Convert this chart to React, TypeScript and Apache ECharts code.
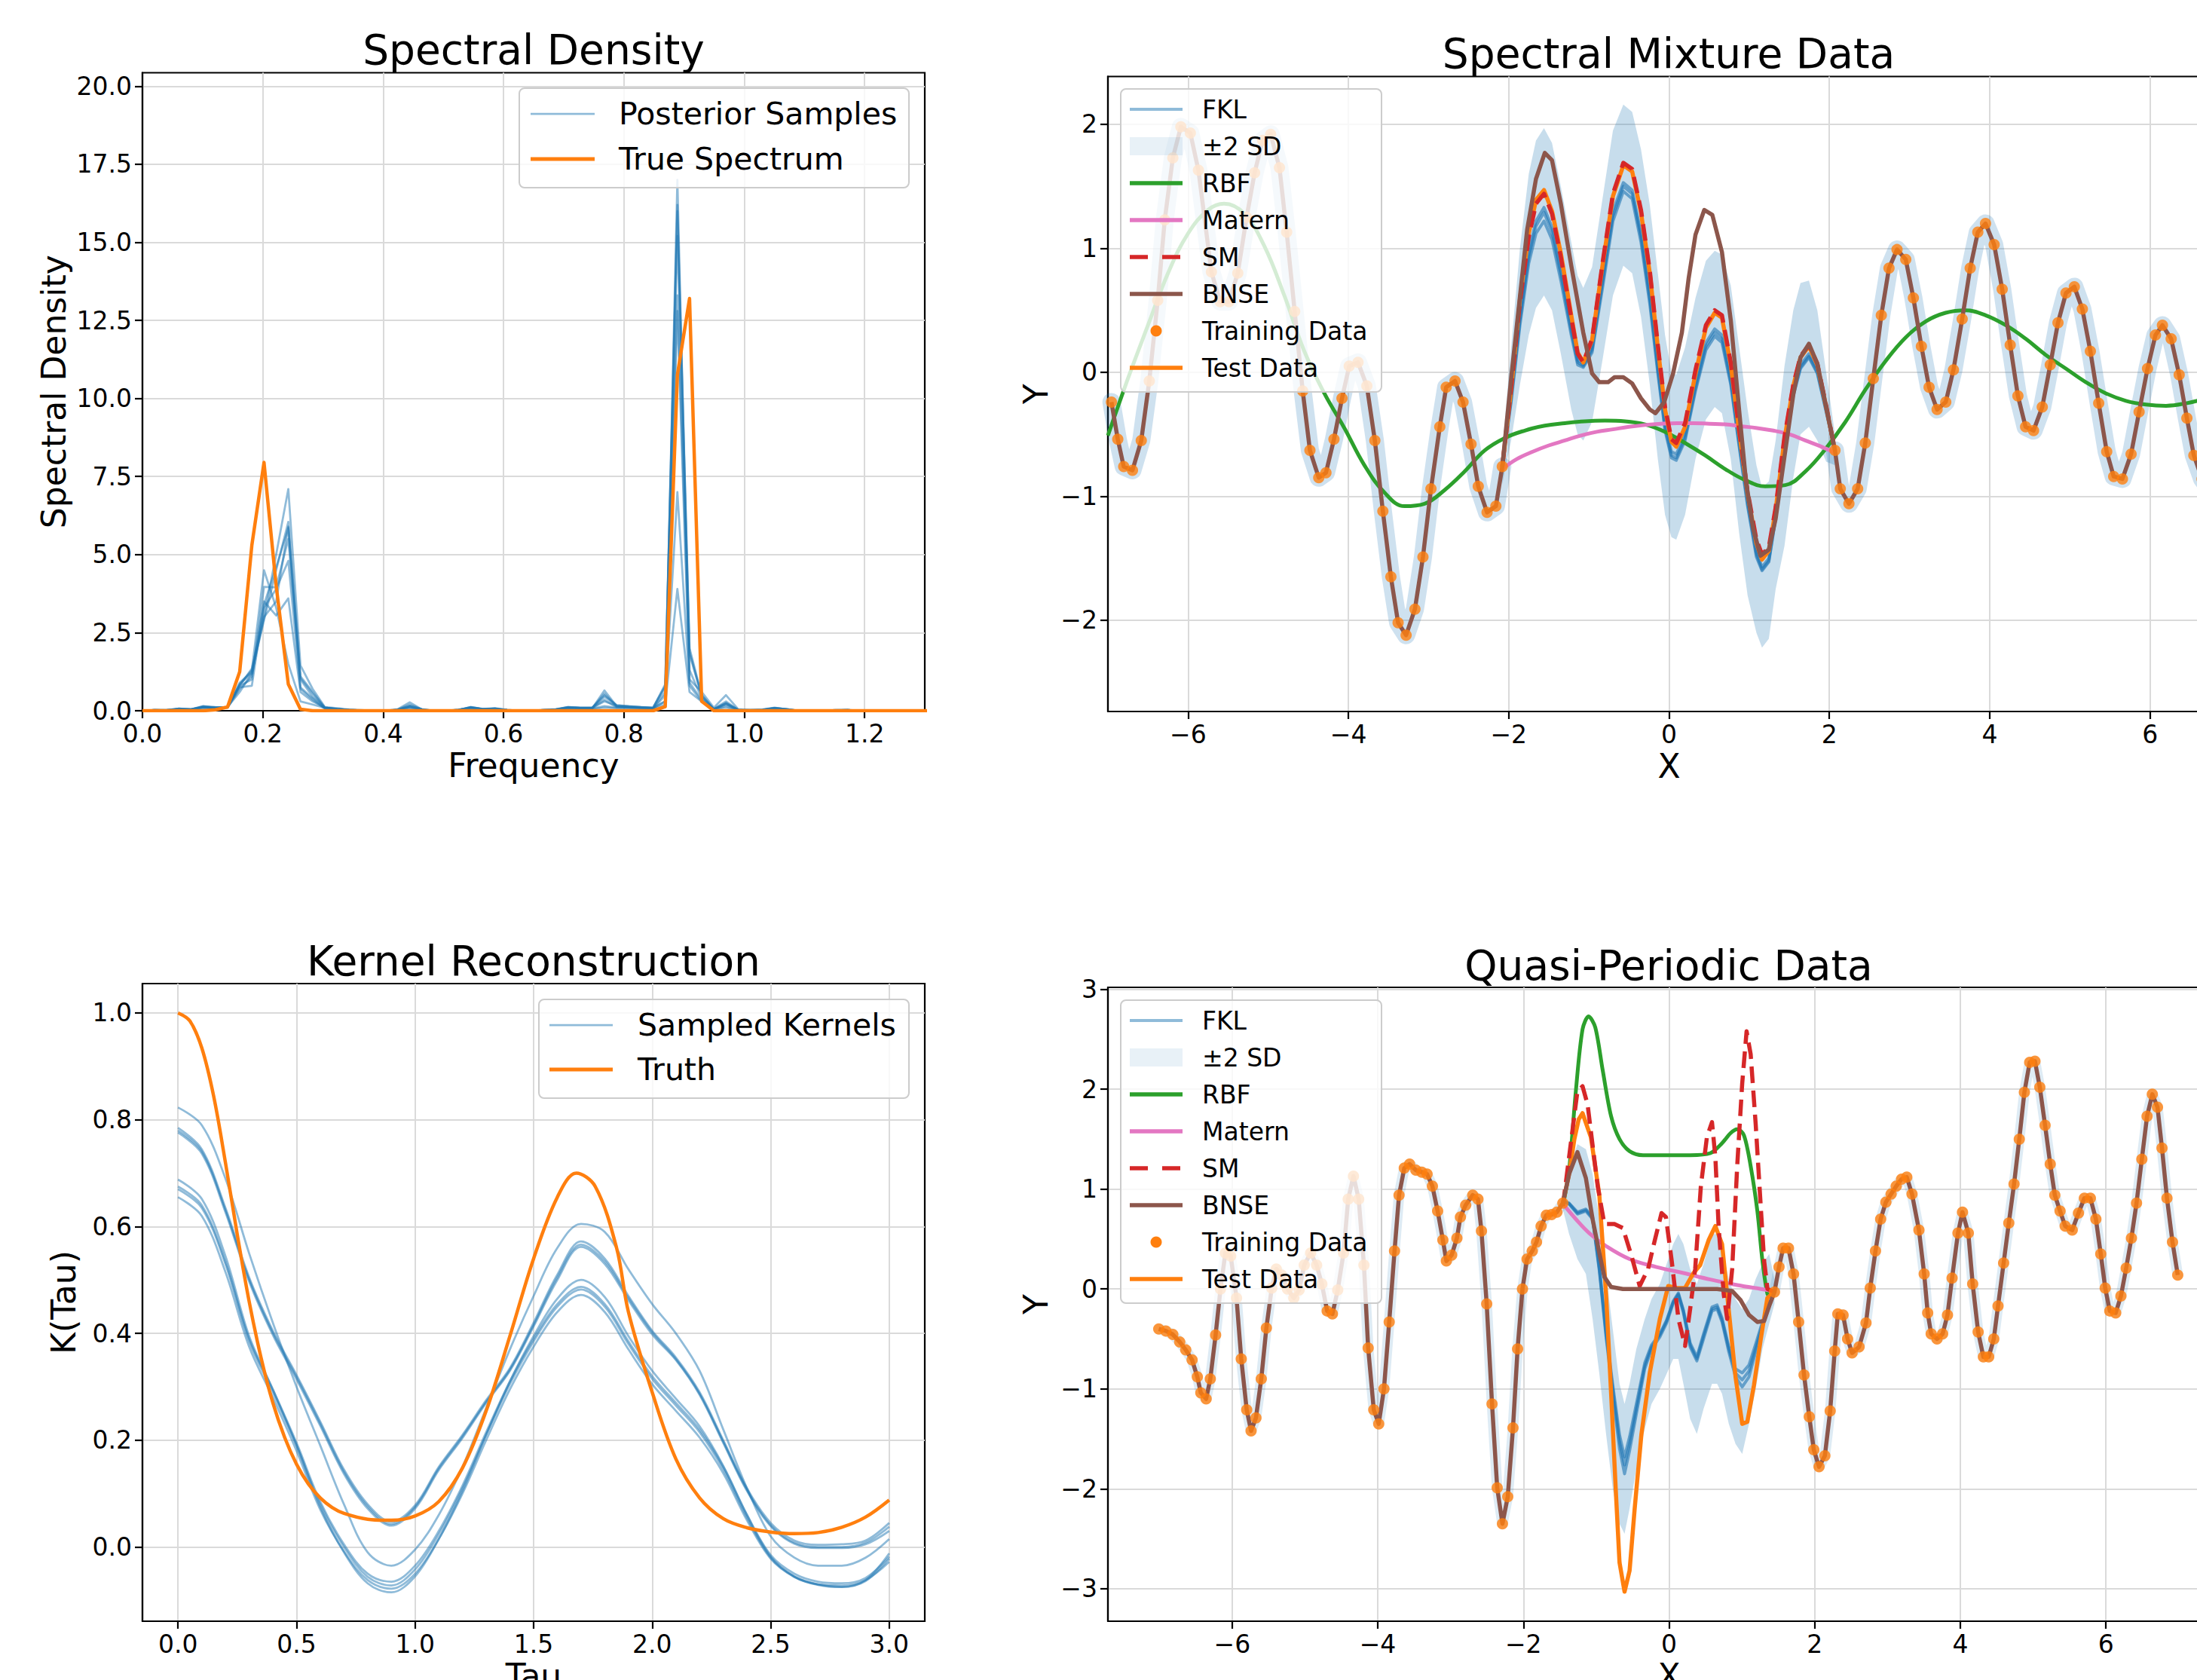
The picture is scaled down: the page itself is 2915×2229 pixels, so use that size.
import React, { useEffect, useRef } from 'react';
import * as echarts from 'echarts';

const FONT = '"DejaVu Sans", "Liberation Sans", sans-serif';
const BLUE = '#1f77b4';
const ORANGE = '#ff7f0e';
const GREEN = '#2ca02c';
const RED = '#d62728';
const PINK = '#e377c2';
const BROWN = '#8c564b';
const SAMPLE_BLUE = 'rgba(31,119,180,0.5)';
const BAND_FILL = 'rgba(31,119,180,0.25)';

// ---------------- Spectral Density ----------------
const freqs = [0, 0.0202, 0.0404, 0.0606, 0.0808, 0.101, 0.1212, 0.1414, 0.1616, 0.1818,
  0.202, 0.2222, 0.2424, 0.2626, 0.2828, 0.303, 0.3232, 0.3434, 0.3636, 0.3838,
  0.404, 0.4242, 0.4444, 0.4646, 0.4848, 0.5051, 0.5253, 0.5455, 0.5657, 0.5859,
  0.6061, 0.6263, 0.6465, 0.6667, 0.6869, 0.7071, 0.7273, 0.7475, 0.7677, 0.7879,
  0.8081, 0.8283, 0.8485, 0.8687, 0.8889, 0.9091, 0.9293, 0.9495, 0.9697, 0.9899,
  1.0101, 1.0303, 1.0505, 1.0707, 1.0909, 1.1111, 1.1313, 1.1515, 1.1717, 1.1919,
  1.2121, 1.2323, 1.2525, 1.2727, 1.2929, 1.3131];

const spec1 = [0, 0.02, 0.01, 0.06, 0.04, 0.12, 0.1, 0.12, 0.8, 1.35,
  3.0, 5.0, 7.1, 1.45, 0.7, 0.12, 0.08, 0.04, 0.02, 0,
  0, 0.05, 0.27, 0.04, 0, 0, 0.03, 0.1, 0.05, 0.07,
  0.02, 0, 0, 0.02, 0.04, 0.1, 0.08, 0.08, 0.65, 0.15,
  0.12, 0.1, 0.08, 0.3, 17.0, 1.0, 0.6, 0.1, 0.5, 0.05,
  0.02, 0.03, 0.08, 0.05, 0, 0, 0, 0.02, 0.03, 0,
  0, 0, 0, 0, 0, 0];
const spec2 = [0, 0.03, 0.02, 0.07, 0.05, 0.15, 0.12, 0.1, 0.9, 1.25,
  2.9, 4.5, 6.05, 1.1, 0.6, 0.1, 0.06, 0.03, 0.01, 0,
  0, 0.03, 0.15, 0.05, 0, 0, 0.02, 0.12, 0.06, 0.08,
  0.03, 0, 0, 0.03, 0.05, 0.12, 0.1, 0.1, 0.5, 0.18,
  0.15, 0.12, 0.1, 0.8, 16.2, 2.0, 0.5, 0.05, 0.25, 0.03,
  0.02, 0.04, 0.1, 0.04, 0, 0, 0, 0.01, 0.02, 0,
  0, 0, 0, 0, 0, 0];
const spec3 = [0, 0.01, 0.02, 0.05, 0.03, 0.1, 0.08, 0.11, 0.75, 0.8,
  3.4, 4.6, 5.85, 0.75, 0.4, 0.08, 0.05, 0.02, 0, 0,
  0, 0.02, 0.1, 0.02, 0, 0, 0.04, 0.08, 0.04, 0.06,
  0.01, 0, 0, 0.01, 0.03, 0.08, 0.07, 0.09, 0.35, 0.12,
  0.1, 0.08, 0.06, 0.5, 13.3, 1.3, 0.4, 0.05, 0.2, 0.02,
  0.01, 0.02, 0.06, 0.03, 0, 0, 0, 0.02, 0.02, 0,
  0, 0, 0, 0, 0, 0];
const spec4 = [0, 0.02, 0.01, 0.05, 0.04, 0.11, 0.09, 0.1, 0.7, 1.1,
  3.3, 3.9, 4.8, 0.7, 0.35, 0.06, 0.04, 0.02, 0, 0,
  0, 0.03, 0.12, 0.03, 0, 0, 0.03, 0.09, 0.05, 0.05,
  0.02, 0, 0, 0.02, 0.03, 0.09, 0.08, 0.07, 0.15, 0.1,
  0.1, 0.09, 0.07, 0.6, 12.8, 0.9, 0.35, 0.04, 0.15, 0.02,
  0.01, 0.03, 0.07, 0.04, 0, 0, 0, 0.01, 0.02, 0,
  0, 0, 0, 0, 0, 0];
const spec5 = [0, 0.01, 0.02, 0.04, 0.03, 0.09, 0.08, 0.12, 0.6, 1.2,
  3.5, 3.05, 3.6, 0.6, 0.3, 0.1, 0.06, 0.03, 0.01, 0,
  0, 0.02, 0.08, 0.02, 0, 0, 0.02, 0.07, 0.04, 0.05,
  0.02, 0, 0, 0.01, 0.02, 0.07, 0.06, 0.06, 0.1, 0.08,
  0.08, 0.07, 0.05, 0.2, 3.9, 0.6, 0.3, 0.05, 0.1, 0.02,
  0.01, 0.02, 0.05, 0.03, 0, 0, 0, 0.01, 0.01, 0,
  0, 0, 0, 0, 0, 0];
const spec6 = [0, 0.02, 0.02, 0.06, 0.04, 0.13, 0.1, 0.11, 0.85, 1.3,
  4.5, 3.3, 1.5, 0.3, 0.2, 0.09, 0.05, 0.03, 0.01, 0,
  0, 0.04, 0.2, 0.04, 0, 0, 0.03, 0.1, 0.05, 0.06,
  0.02, 0, 0, 0.02, 0.04, 0.1, 0.09, 0.09, 0.55, 0.14,
  0.12, 0.1, 0.08, 0.3, 7.0, 0.8, 0.3, 0.06, 0.3, 0.03,
  0.02, 0.03, 0.08, 0.04, 0, 0, 0, 0.02, 0.02, 0,
  0, 0, 0, 0, 0, 0];
const spec7 = [0, 0.02, 0.01, 0.06, 0.05, 0.12, 0.11, 0.12, 0.8, 1.0,
  3.97, 3.95, 5.5, 1.0, 0.45, 0.1, 0.05, 0.03, 0.01, 0,
  0, 0.03, 0.14, 0.03, 0, 0, 0.02, 0.11, 0.05, 0.07,
  0.02, 0, 0, 0.02, 0.04, 0.11, 0.09, 0.09, 0.3, 0.15,
  0.13, 0.11, 0.09, 0.85, 15.2, 1.8, 0.5, 0.05, 0.22, 0.03,
  0.02, 0.03, 0.09, 0.05, 0, 0, 0, 0.01, 0.02, 0,
  0, 0, 0, 0, 0, 0];
const spec8 = [0, 0.02, 0.02, 0.07, 0.04, 0.14, 0.1, 0.1, 0.85, 1.2,
  3.0, 3.5, 5.9, 1.05, 0.55, 0.1, 0.06, 0.03, 0.01, 0,
  0, 0.03, 0.16, 0.04, 0, 0, 0.03, 0.12, 0.06, 0.07,
  0.03, 0, 0, 0.02, 0.04, 0.12, 0.1, 0.1, 0.45, 0.17,
  0.14, 0.12, 0.1, 0.75, 16.0, 1.9, 0.45, 0.05, 0.24, 0.03,
  0.02, 0.04, 0.09, 0.05, 0, 0, 0, 0.01, 0.02, 0,
  0, 0, 0, 0, 0, 0];
const trueSpectrum = [0, 0, 0, 0, 0, 0, 0.03, 0.12, 1.25, 5.3,
  7.95, 4.0, 0.85, 0.05, 0, 0, 0, 0, 0, 0,
  0, 0, 0, 0, 0, 0, 0, 0, 0, 0,
  0, 0, 0, 0, 0, 0, 0, 0, 0, 0,
  0, 0, 0, 0.13, 10.75, 13.2, 0.3, 0, 0, 0,
  0, 0, 0, 0, 0, 0, 0, 0, 0, 0,
  0, 0, 0, 0, 0, 0];
const specSamples = [spec1, spec2, spec3, spec4, spec5, spec6, spec7, spec8];

// ---------------- Spectral Mixture Data ----------------
const smTrainLeft = [[-6.956, -0.24], [-6.877, -0.54], [-6.803, -0.76], [-6.694, -0.79], [-6.584, -0.55], [-6.484, -0.07], [-6.379, 0.58], [-6.291, 1.23], [-6.19, 1.73], [-6.09, 1.98], [-5.972, 1.93], [-5.871, 1.63], [-5.709, 0.81], [-5.6, 0.57], [-5.49, 0.57], [-5.38, 0.8], [-5.27, 1.25], [-5.17, 1.61], [-5.07, 1.87], [-4.97, 1.92], [-4.86, 1.65], [-4.77, 1.13], [-4.67, 0.49], [-4.57, -0.15], [-4.48, -0.63], [-4.37, -0.85], [-4.28, -0.81], [-4.18, -0.54], [-4.08, -0.21], [-3.99, 0.05], [-3.88, 0.08], [-3.77, -0.11], [-3.67, -0.55], [-3.57, -1.12], [-3.47, -1.65], [-3.38, -2.02], [-3.28, -2.12], [-3.17, -1.91], [-3.07, -1.49], [-2.97, -0.94], [-2.86, -0.44], [-2.78, -0.12], [-2.67, -0.07], [-2.57, -0.24], [-2.47, -0.58], [-2.38, -0.92], [-2.27, -1.13], [-2.16, -1.08], [-2.08, -0.76]];
const smTrainRight = [[2.07, -0.63], [2.136, -0.94], [2.244, -1.06], [2.353, -0.94], [2.448, -0.57], [2.548, -0.05], [2.648, 0.46], [2.744, 0.84], [2.844, 0.99], [2.953, 0.91], [3.048, 0.6], [3.148, 0.21], [3.244, -0.12], [3.344, -0.3], [3.452, -0.24], [3.548, 0.02], [3.657, 0.43], [3.757, 0.84], [3.852, 1.13], [3.948, 1.2], [4.056, 1.03], [4.156, 0.67], [4.256, 0.22], [4.352, -0.19], [4.448, -0.44], [4.547, -0.47], [4.656, -0.28], [4.756, 0.06], [4.852, 0.4], [4.952, 0.64], [5.056, 0.69], [5.156, 0.51], [5.256, 0.17], [5.36, -0.25], [5.46, -0.64], [5.547, -0.84], [5.656, -0.86], [5.764, -0.66], [5.864, -0.32], [5.969, 0.03], [6.068, 0.3], [6.155, 0.38], [6.264, 0.27], [6.364, -0.02], [6.46, -0.37], [6.547, -0.67], [6.65, -0.86], [6.75, -0.95]];
const smGapX = [-2.08, -1.97, -1.86, -1.75, -1.66, -1.56, -1.46, -1.35, -1.22, -1.14, -1.07, -0.96, -0.83, -0.7, -0.57, -0.46, -0.35, -0.24, -0.14, -0.05, 0.03, 0.09, 0.2, 0.33, 0.46, 0.57, 0.66, 0.77, 0.875, 0.98, 1.09, 1.16, 1.245, 1.33, 1.44, 1.55, 1.64, 1.745, 1.85, 1.96, 2.07];
const smTestY = [-0.76, -0.14, 0.59, 1.12, 1.39, 1.47, 1.3, 0.96, 0.46, 0.16, 0.08, 0.26, 0.86, 1.42, 1.67, 1.62, 1.29, 0.8, 0.2, -0.3, -0.56, -0.6, -0.44, -0.01, 0.36, 0.48, 0.44, 0.06, -0.48, -0.98, -1.38, -1.51, -1.44, -1.11, -0.54, -0.11, 0.12, 0.21, 0.06, -0.28, -0.63];
const smSmY = [-0.76, -0.12, 0.57, 1.09, 1.36, 1.44, 1.28, 0.93, 0.44, 0.15, 0.08, 0.27, 0.88, 1.44, 1.69, 1.64, 1.31, 0.82, 0.22, -0.28, -0.54, -0.57, -0.41, 0.02, 0.38, 0.5, 0.46, 0.08, -0.46, -0.96, -1.35, -1.47, -1.41, -1.09, -0.52, -0.1, 0.13, 0.22, 0.07, -0.27, -0.63];
const smFkl1 = [-0.76, -0.2, 0.45, 0.97, 1.22, 1.33, 1.17, 0.83, 0.36, 0.1, 0.06, 0.2, 0.75, 1.3, 1.53, 1.47, 1.12, 0.62, 0.05, -0.42, -0.64, -0.66, -0.5, -0.1, 0.24, 0.35, 0.3, -0.05, -0.56, -1.04, -1.45, -1.57, -1.5, -1.15, -0.6, -0.16, 0.06, 0.15, 0.02, -0.3, -0.63];
const smFkl2 = [-0.76, -0.22, 0.42, 0.93, 1.18, 1.29, 1.13, 0.79, 0.33, 0.08, 0.05, 0.18, 0.72, 1.26, 1.5, 1.44, 1.09, 0.59, 0.02, -0.45, -0.67, -0.69, -0.53, -0.13, 0.21, 0.32, 0.27, -0.08, -0.58, -1.06, -1.47, -1.59, -1.52, -1.17, -0.62, -0.18, 0.04, 0.13, 0.0, -0.31, -0.63];
const smFkl3 = [-0.76, -0.24, 0.38, 0.88, 1.12, 1.22, 1.07, 0.74, 0.3, 0.06, 0.04, 0.16, 0.68, 1.22, 1.46, 1.4, 1.05, 0.55, -0.01, -0.47, -0.69, -0.71, -0.55, -0.15, 0.18, 0.29, 0.24, -0.1, -0.6, -1.08, -1.49, -1.6, -1.53, -1.18, -0.63, -0.19, 0.03, 0.12, -0.01, -0.32, -0.63];
const smBandUpper = [-0.62, 0.2, 1.0, 1.6, 1.87, 1.97, 1.85, 1.5, 1.05, 0.78, 0.68, 0.85, 1.4, 1.95, 2.16, 2.1, 1.8, 1.35, 0.8, 0.3, 0.0, -0.02, 0.2, 0.6, 0.9, 0.98, 0.95, 0.7, 0.2, -0.3, -0.75, -0.93, -0.88, -0.55, 0.05, 0.5, 0.72, 0.74, 0.5, 0.0, -0.5];
const smBandLower = [-0.9, -0.55, -0.1, 0.3, 0.52, 0.62, 0.5, 0.15, -0.3, -0.5, -0.55, -0.4, 0.1, 0.62, 0.86, 0.8, 0.45, -0.1, -0.7, -1.15, -1.33, -1.35, -1.15, -0.7, -0.38, -0.28, -0.33, -0.7, -1.3, -1.8, -2.1, -2.22, -2.15, -1.75, -1.4, -0.85, -0.5, -0.44, -0.55, -0.72, -0.75];
const smBnseGap = [[-2.08, -0.76], [-1.97, -0.05], [-1.87, 0.55], [-1.77, 1.15], [-1.66, 1.56], [-1.55, 1.77], [-1.46, 1.71], [-1.35, 1.36], [-1.22, 0.86], [-1.07, 0.32], [-0.96, -0.01], [-0.87, -0.08], [-0.76, -0.08], [-0.68, -0.04], [-0.57, -0.04], [-0.46, -0.09], [-0.35, -0.21], [-0.24, -0.3], [-0.17, -0.33], [-0.06, -0.24], [0.05, -0.01], [0.16, 0.32], [0.245, 0.76], [0.33, 1.11], [0.44, 1.31], [0.54, 1.27], [0.66, 0.97], [0.77, 0.42], [0.875, -0.31], [0.96, -0.88], [1.05, -1.26], [1.14, -1.48], [1.245, -1.43], [1.33, -1.18], [1.44, -0.68], [1.55, -0.18], [1.64, 0.12], [1.745, 0.23], [1.85, 0.07], [1.96, -0.28], [2.07, -0.63]];
const smMatern = [[-2.08, -0.78], [-1.9, -0.7], [-1.7, -0.64], [-1.5, -0.59], [-1.3, -0.55], [-1.1, -0.51], [-0.9, -0.48], [-0.7, -0.46], [-0.5, -0.44], [-0.3, -0.425], [-0.1, -0.415], [0.1, -0.41], [0.3, -0.41], [0.5, -0.415], [0.7, -0.42], [0.9, -0.435], [1.1, -0.45], [1.3, -0.47], [1.5, -0.5], [1.7, -0.55], [1.9, -0.6], [2.07, -0.65]];
const smRbf = [[-7.0, -0.51], [-6.75, -0.05], [-6.5, 0.38], [-6.25, 0.8], [-6.0, 1.12], [-5.75, 1.31], [-5.55, 1.36], [-5.3, 1.28], [-5.05, 1.02], [-4.8, 0.62], [-4.55, 0.17], [-4.3, -0.17], [-4.05, -0.45], [-3.8, -0.75], [-3.55, -0.97], [-3.3, -1.08], [-3.05, -1.06], [-2.8, -0.95], [-2.55, -0.8], [-2.3, -0.63], [-2.05, -0.53], [-1.8, -0.47], [-1.55, -0.43], [-1.3, -0.41], [-1.05, -0.395], [-0.8, -0.39], [-0.55, -0.395], [-0.3, -0.42], [-0.05, -0.48], [0.2, -0.57], [0.45, -0.67], [0.7, -0.78], [0.95, -0.87], [1.2, -0.92], [1.45, -0.91], [1.7, -0.8], [1.95, -0.62], [2.2, -0.4], [2.45, -0.14], [2.7, 0.09], [2.95, 0.28], [3.2, 0.41], [3.45, 0.48], [3.7, 0.5], [3.95, 0.46], [4.2, 0.38], [4.45, 0.27], [4.7, 0.14], [4.95, 0.03], [5.2, -0.08], [5.45, -0.17], [5.7, -0.23], [5.95, -0.26], [6.2, -0.27], [6.45, -0.25], [6.7, -0.21], [6.95, -0.15]];

// ---------------- Kernel Reconstruction ----------------
const kTau = [0, 0.1, 0.2, 0.3, 0.4, 0.5, 0.6, 0.7, 0.8, 0.9, 1.0, 1.1, 1.2, 1.3, 1.4, 1.5, 1.6, 1.7, 1.8, 1.9, 2.0, 2.1, 2.2, 2.3, 2.4, 2.5, 2.6, 2.7, 2.8, 2.9, 3.0];
const kA1 = [0.785, 0.745, 0.635, 0.505, 0.405, 0.322, 0.235, 0.145, 0.08, 0.047, 0.078, 0.15, 0.21, 0.275, 0.335, 0.42, 0.51, 0.572, 0.54, 0.47, 0.405, 0.355, 0.29, 0.2, 0.11, 0.045, 0.012, 0.004, 0.005, 0.012, 0.045];
const kA2 = [0.78, 0.741, 0.631, 0.501, 0.401, 0.318, 0.231, 0.141, 0.076, 0.043, 0.075, 0.147, 0.207, 0.272, 0.332, 0.416, 0.505, 0.566, 0.535, 0.466, 0.402, 0.352, 0.287, 0.197, 0.107, 0.041, 0.008, 0.0, 0.0, 0.008, 0.038];
const kA3 = [0.776, 0.737, 0.627, 0.497, 0.397, 0.314, 0.227, 0.137, 0.072, 0.04, 0.072, 0.144, 0.204, 0.27, 0.33, 0.413, 0.5, 0.562, 0.53, 0.462, 0.398, 0.35, 0.285, 0.195, 0.105, 0.039, 0.006, -0.002, -0.002, 0.005, 0.03];
const kL1 = [0.823, 0.79, 0.69, 0.55, 0.42, 0.3, 0.19, 0.08, -0.01, -0.035, -0.005, 0.06, 0.15, 0.26, 0.37, 0.47, 0.56, 0.605, 0.59, 0.52, 0.455, 0.4, 0.33, 0.22, 0.11, 0.02, -0.02, -0.035, -0.035, -0.02, 0.015];
const kB1 = [0.675, 0.64, 0.535, 0.39, 0.295, 0.195, 0.085, 0.005, -0.05, -0.065, -0.035, 0.03, 0.115, 0.215, 0.31, 0.39, 0.455, 0.487, 0.455, 0.385, 0.32, 0.27, 0.22, 0.15, 0.06, -0.015, -0.05, -0.065, -0.068, -0.058, -0.018];
const kB2 = [0.67, 0.635, 0.53, 0.385, 0.29, 0.19, 0.08, 0.0, -0.056, -0.072, -0.042, 0.024, 0.11, 0.21, 0.305, 0.385, 0.45, 0.482, 0.45, 0.38, 0.315, 0.265, 0.215, 0.145, 0.055, -0.02, -0.056, -0.071, -0.075, -0.064, -0.022];
const kB3 = [0.688, 0.652, 0.545, 0.395, 0.295, 0.19, 0.075, -0.01, -0.068, -0.085, -0.055, 0.015, 0.105, 0.21, 0.31, 0.395, 0.465, 0.5, 0.468, 0.395, 0.33, 0.278, 0.226, 0.152, 0.06, -0.018, -0.055, -0.07, -0.075, -0.062, -0.012];
const kB4 = [0.655, 0.62, 0.515, 0.375, 0.28, 0.18, 0.07, -0.008, -0.062, -0.078, -0.05, 0.015, 0.1, 0.2, 0.295, 0.375, 0.44, 0.472, 0.44, 0.37, 0.305, 0.255, 0.205, 0.138, 0.05, -0.022, -0.056, -0.07, -0.072, -0.062, -0.028];
const kernelSamples = [kA1, kA2, kA3, kL1, kB1, kB2, kB3, kB4];
const kTruth = [[0, 1.0], [0.05, 0.985], [0.1, 0.935], [0.15, 0.845], [0.2, 0.72], [0.25, 0.585], [0.3, 0.46], [0.35, 0.355], [0.4, 0.27], [0.45, 0.205], [0.5, 0.155], [0.55, 0.118], [0.6, 0.092], [0.65, 0.074], [0.7, 0.063], [0.8, 0.052], [0.9, 0.05], [1.0, 0.058], [1.1, 0.085], [1.2, 0.148], [1.3, 0.255], [1.4, 0.395], [1.5, 0.54], [1.6, 0.655], [1.68, 0.7], [1.76, 0.675], [1.85, 0.56], [1.9, 0.44], [2.0, 0.29], [2.1, 0.165], [2.2, 0.092], [2.3, 0.053], [2.4, 0.036], [2.5, 0.028], [2.6, 0.025], [2.7, 0.027], [2.8, 0.037], [2.9, 0.056], [3.0, 0.088]];

// ---------------- Quasi-Periodic Data ----------------
const qpTrainLeft = [[-7.008, -0.4], [-6.91, -0.42], [-6.815, -0.455], [-6.72, -0.53], [-6.637, -0.61], [-6.55, -0.71], [-6.478, -0.88], [-6.43, -1.04], [-6.357, -1.1], [-6.3, -0.9], [-6.227, -0.46], [-6.16, 0.0], [-6.093, 0.36], [-6.02, 0.33], [-5.94, -0.09], [-5.875, -0.7], [-5.8, -1.21], [-5.74, -1.42], [-5.673, -1.29], [-5.6, -0.9], [-5.53, -0.39], [-5.456, 0.01], [-5.394, 0.2], [-5.32, 0.14], [-5.24, 0.0], [-5.153, -0.09], [-5.08, -0.01], [-5.01, 0.24], [-4.922, 0.36], [-4.84, 0.24], [-4.768, 0.05], [-4.695, -0.22], [-4.623, -0.25], [-4.55, -0.01], [-4.47, 0.36], [-4.406, 0.9], [-4.334, 1.13], [-4.262, 0.9], [-4.19, 0.24], [-4.132, -0.59], [-4.055, -1.21], [-3.987, -1.35], [-3.915, -1.0], [-3.843, -0.33], [-3.77, 0.38], [-3.708, 0.94], [-3.636, 1.21], [-3.563, 1.25], [-3.477, 1.19], [-3.395, 1.17], [-3.323, 1.15], [-3.25, 1.03], [-3.178, 0.78], [-3.106, 0.49], [-3.058, 0.28], [-2.985, 0.34], [-2.913, 0.51], [-2.865, 0.72], [-2.793, 0.84], [-2.696, 0.94], [-2.624, 0.9], [-2.576, 0.58], [-2.504, -0.15], [-2.431, -1.15], [-2.36, -1.99], [-2.288, -2.35], [-2.215, -2.08], [-2.143, -1.39], [-2.08, -0.6], [-2.013, 0.0], [-1.95, 0.3], [-1.878, 0.38], [-1.82, 0.47], [-1.757, 0.63], [-1.685, 0.74], [-1.613, 0.745], [-1.54, 0.77], [-1.458, 0.86]];
const qpTrainRight = [[1.448, -0.03], [1.51, 0.22], [1.567, 0.41], [1.64, 0.41], [1.71, 0.15], [1.78, -0.33], [1.854, -0.86], [1.926, -1.28], [1.988, -1.61], [2.06, -1.78], [2.14, -1.67], [2.213, -1.22], [2.275, -0.62], [2.318, -0.25], [2.39, -0.26], [2.452, -0.5], [2.514, -0.64], [2.61, -0.58], [2.705, -0.34], [2.763, 0.01], [2.835, 0.38], [2.906, 0.7], [2.978, 0.87], [3.05, 0.95], [3.12, 1.03], [3.193, 1.1], [3.265, 1.12], [3.337, 0.95], [3.432, 0.59], [3.504, 0.15], [3.552, -0.24], [3.6, -0.45], [3.68, -0.5], [3.757, -0.45], [3.824, -0.26], [3.887, 0.11], [3.968, 0.56], [4.03, 0.77], [4.11, 0.56], [4.17, 0.05], [4.245, -0.43], [4.317, -0.68], [4.39, -0.68], [4.46, -0.5], [4.518, -0.17], [4.595, 0.26], [4.666, 0.66], [4.738, 1.05], [4.81, 1.5], [4.88, 1.97], [4.953, 2.27], [5.025, 2.28], [5.092, 2.02], [5.164, 1.64], [5.235, 1.25], [5.298, 0.94], [5.37, 0.78], [5.44, 0.63], [5.537, 0.59], [5.623, 0.76], [5.704, 0.91], [5.786, 0.91], [5.862, 0.7], [5.929, 0.35], [5.99, 0.01], [6.053, -0.22], [6.134, -0.24], [6.206, -0.07], [6.278, 0.21], [6.35, 0.51], [6.42, 0.86], [6.493, 1.3], [6.565, 1.73], [6.637, 1.95], [6.708, 1.82], [6.77, 1.41], [6.838, 0.91], [6.914, 0.47], [6.986, 0.14]];
const qpGapX = [-1.458, -1.373, -1.258, -1.142, -1.05, -0.957, -0.865, -0.773, -0.68, -0.611, -0.542, -0.449, -0.334, -0.241, -0.126, -0.033, 0.058, 0.128, 0.197, 0.29, 0.382, 0.474, 0.59, 0.66, 0.728, 0.821, 0.913, 1.005, 1.098, 1.19, 1.283, 1.375, 1.448];
const qpFkl1 = [0.88, 0.86, 0.77, 0.8, 0.72, 0.22, -0.42, -0.96, -1.46, -1.68, -1.48, -1.15, -0.74, -0.56, -0.45, -0.31, -0.12, -0.04, -0.21, -0.54, -0.68, -0.45, -0.18, -0.16, -0.29, -0.58, -0.8, -0.84, -0.76, -0.55, -0.33, -0.15, -0.03];
const qpFkl2 = [0.88, 0.85, 0.75, 0.78, 0.7, 0.18, -0.48, -1.05, -1.6, -1.85, -1.62, -1.25, -0.8, -0.6, -0.48, -0.34, -0.14, -0.06, -0.24, -0.58, -0.72, -0.5, -0.22, -0.2, -0.33, -0.63, -0.88, -0.98, -0.88, -0.63, -0.38, -0.17, -0.03];
const qpFkl3 = [0.88, 0.855, 0.76, 0.79, 0.71, 0.2, -0.45, -1.0, -1.53, -1.76, -1.55, -1.2, -0.77, -0.58, -0.46, -0.32, -0.13, -0.05, -0.22, -0.56, -0.7, -0.47, -0.2, -0.18, -0.31, -0.6, -0.84, -0.91, -0.82, -0.59, -0.35, -0.16, -0.03];
const qpBandUpper = [0.95, 1.2, 1.45, 1.4, 1.15, 0.7, 0.15, -0.4, -0.95, -1.15, -0.95, -0.6, -0.3, -0.1, 0.05, 0.25, 0.45, 0.55, 0.45, 0.2, 0.05, 0.25, 0.55, 0.55, 0.4, 0.1, -0.1, -0.2, -0.1, 0.1, 0.25, 0.35, 0.1];
const qpBandLower = [0.8, 0.55, 0.3, 0.15, -0.3, -0.85, -1.45, -2.0, -2.35, -2.45, -2.2, -1.8, -1.4, -1.15, -1.0, -0.85, -0.7, -0.7, -0.95, -1.3, -1.45, -1.2, -0.95, -0.95, -1.05, -1.35, -1.55, -1.65, -1.35, -1.0, -0.6, -0.35, -0.15];
const qpTest = [[-1.458, 0.86], [-1.373, 1.15], [-1.3, 1.5], [-1.24, 1.7], [-1.188, 1.76], [-1.073, 1.52], [-0.957, 0.94], [-0.865, -0.05], [-0.796, -1.04], [-0.727, -2.08], [-0.68, -2.74], [-0.611, -3.03], [-0.542, -2.82], [-0.472, -2.2], [-0.38, -1.46], [-0.265, -0.84], [-0.126, -0.3], [-0.011, 0.03], [0.105, 0.01], [0.22, 0.01], [0.336, 0.16], [0.428, 0.24], [0.544, 0.49], [0.636, 0.63], [0.728, 0.45], [0.821, -0.22], [0.913, -0.88], [1.005, -1.35], [1.075, -1.33], [1.167, -0.96], [1.26, -0.5], [1.35, -0.09], [1.448, -0.03]];
const qpBnseGap = [[-1.458, 0.86], [-1.373, 1.15], [-1.258, 1.37], [-1.142, 1.11], [-1.05, 0.7], [-0.957, 0.36], [-0.888, 0.12], [-0.796, 0.02], [-0.634, 0.0], [-0.31, 0.0], [0.152, 0.0], [0.66, 0.0], [0.867, -0.02], [0.982, -0.11], [1.098, -0.26], [1.213, -0.33], [1.306, -0.32], [1.375, -0.17], [1.448, -0.03]];
const qpRbf = [[-1.458, 0.83], [-1.373, 1.19], [-1.28, 1.98], [-1.188, 2.6], [-1.105, 2.73], [-1.013, 2.62], [-0.911, 2.19], [-0.796, 1.73], [-0.68, 1.5], [-0.542, 1.38], [-0.357, 1.34], [-0.08, 1.34], [0.29, 1.34], [0.567, 1.36], [0.728, 1.46], [0.844, 1.56], [0.936, 1.6], [1.028, 1.54], [1.121, 1.23], [1.213, 0.78], [1.283, 0.28], [1.352, -0.05], [1.398, -0.07], [1.448, -0.03]];
const qpMatern = [[-1.442, 0.84], [-1.28, 0.7], [-1.096, 0.56], [-0.865, 0.43], [-0.542, 0.3], [-0.172, 0.22], [0.197, 0.16], [0.567, 0.095], [0.936, 0.04], [1.352, -0.01], [1.398, -0.02]];
const qpSm = [[-1.458, 0.83], [-1.373, 1.32], [-1.258, 1.98], [-1.188, 2.03], [-1.119, 1.85], [-1.05, 1.44], [-0.98, 1.03], [-0.888, 0.65], [-0.75, 0.65], [-0.634, 0.61], [-0.519, 0.34], [-0.403, 0.03], [-0.288, 0.2], [-0.195, 0.49], [-0.103, 0.76], [-0.043, 0.72], [0.037, 0.28], [0.129, -0.3], [0.22, -0.57], [0.29, -0.2], [0.359, 0.2], [0.437, 1.03], [0.52, 1.52], [0.59, 1.67], [0.636, 1.32], [0.682, 0.61], [0.751, -0.05], [0.798, -0.3], [0.867, 0.2], [0.936, 1.23], [1.005, 2.06], [1.065, 2.58], [1.121, 2.35], [1.19, 1.65], [1.26, 0.82], [1.306, 0.28], [1.352, 0.0], [1.448, -0.03]];

// ---------------- helpers ----------------
const minus = (s: string) => s.replace('-', '\u2212');

function mkAxis(gridIndex: number, min: number, max: number, ticks: number[], fmt: (v: number) => string, name: string, nameGap: number) {
  return {
    type: 'value', gridIndex, min, max,
    name, nameLocation: 'middle', nameGap,
    nameTextStyle: { fontSize: 44, fontFamily: FONT, color: '#000' },
    axisLine: { show: true, onZero: false, lineStyle: { color: '#000', width: 2.2 } },
    axisTick: { show: true, inside: false, length: 10, customValues: ticks, lineStyle: { color: '#000', width: 2.2 } },
    axisLabel: { customValues: ticks, formatter: (v: number) => minus(fmt(v)), fontSize: 33, fontFamily: FONT, color: '#000', margin: 14 },
    splitLine: { show: true, lineStyle: { color: '#dadada', width: 2 } },
  };
}
function line(gi: number, data: any[], color: string, width: number, extra: any = {}) {
  return {
    type: 'line', xAxisIndex: gi, yAxisIndex: gi, data, showSymbol: false, symbol: 'none',
    lineStyle: { color, width, join: 'round', ...(extra.lineStyle || {}) },
    smooth: extra.smooth || false, silent: true, clip: true, z: extra.z ?? 2,
  };
}
const pairs = (xs: number[], ys: number[]) => xs.map((x, i) => [x, ys[i]]);
function band(gi: number, xs: number[], up: number[], lo: number[]) {
  return {
    type: 'custom', xAxisIndex: gi, yAxisIndex: gi, clip: true, silent: true, z: 2,
    data: [[xs[0], up[0]]],
    renderItem: (_p: any, api: any) => {
      const pts: number[][] = [];
      for (let i = 0; i < xs.length; i++) pts.push(api.coord([xs[i], up[i]]));
      for (let i = xs.length - 1; i >= 0; i--) pts.push(api.coord([xs[i], lo[i]]));
      return { type: 'polygon', shape: { points: pts }, style: { fill: BAND_FILL } };
    },
  };
}

const f1 = (v: number) => v.toFixed(1);
const f0 = (v: number) => String(Math.round(v));

// legend helpers (graphic)
const Z = 100;
const box = (x: number, y: number, w: number, h: number) => ({ type: 'rect', z: Z, shape: { x, y, width: w, height: h, r: 7 }, style: { fill: 'rgba(255,255,255,0.8)', stroke: '#cccccc', lineWidth: 2 } });
const hline = (x1: number, x2: number, y: number, stroke: string, lineWidth: number, lineDash?: number[]) => ({ type: 'line', z: Z + 1, shape: { x1, y1: y, x2, y2: y }, style: { stroke, lineWidth, lineDash: lineDash || null } });
const txt = (text: string, x: number, y: number, fontSize: number, align = 'left') => ({ type: 'text', z: Z + 1, x, y, style: { text, fontSize, fontFamily: FONT, fill: '#000', textAlign: align, align, textVerticalAlign: 'middle', verticalAlign: 'middle' } });

function modelLegend(rows: number[]) {
  const hx1 = 1499, hx2 = 1569, tx = 1595, fs = 33;
  return [
    box(1487, rows[0] - 27, 346, rows[7] - rows[0] + 59),
    hline(hx1, hx2, rows[0], 'rgba(31,119,180,0.5)', 4), txt('FKL', tx, rows[0], fs),
    { type: 'rect', z: Z + 1, shape: { x: hx1, y: rows[1] - 12, width: hx2 - hx1, height: 24 }, style: { fill: 'rgba(31,119,180,0.1)' } }, txt('\u00b12 SD', tx, rows[1], fs),
    hline(hx1, hx2, rows[2], GREEN, 5.5), txt('RBF', tx, rows[2], fs),
    hline(hx1, hx2, rows[3], PINK, 5.5), txt('Matern', tx, rows[3], fs),
    hline(hx1, hx2, rows[4], RED, 5.5, [24, 19]), txt('SM', tx, rows[4], fs),
    hline(hx1, hx2, rows[5], BROWN, 5.5), txt('BNSE', tx, rows[5], fs),
    { type: 'circle', z: Z + 1, shape: { cx: (hx1 + hx2) / 2, cy: rows[6], r: 7.5 }, style: { fill: ORANGE } }, txt('Training Data', tx, rows[6], fs),
    hline(hx1, hx2, rows[7], ORANGE, 5.5), txt('Test Data', tx, rows[7], fs),
  ];
}

function buildOption() {
  const series: any[] = [];
  // ---- Spectral density (grid 0)
  specSamples.forEach((s) => series.push(line(0, pairs(freqs, s), SAMPLE_BLUE, 2.75)));
  series.push(line(0, pairs(freqs, trueSpectrum), ORANGE, 4.5, { z: 3 }));

  // ---- Spectral mixture data (grid 1)
  series.push(band(1, smGapX, smBandUpper, smBandLower));
  series.push(line(1, smTrainLeft, 'rgba(31,119,180,0.22)', 24, { lineStyle: { cap: 'round' } }));
  series.push(line(1, smTrainRight, 'rgba(31,119,180,0.22)', 24, { lineStyle: { cap: 'round' } }));
  [smFkl1, smFkl2, smFkl3].forEach((f) => series.push(line(1, pairs(smGapX, f), 'rgba(31,119,180,0.6)', 4)));
  series.push(line(1, smRbf, GREEN, 5, { smooth: 0.4 }));
  series.push(line(1, smMatern, PINK, 5, { smooth: 0.4 }));
  series.push({ type: 'scatter', xAxisIndex: 1, yAxisIndex: 1, data: [...smTrainLeft, ...smTrainRight], symbolSize: 15, itemStyle: { color: ORANGE }, silent: true, z: 2 });
  series.push(line(1, pairs(smGapX, smTestY), ORANGE, 5.5));
  series.push(line(1, pairs(smGapX, smSmY), RED, 5.5, { lineStyle: { type: [22, 10] } }));
  series.push(line(1, [...smTrainLeft, ...smBnseGap.slice(1, -1), ...smTrainRight], BROWN, 5.5));

  // ---- Kernel reconstruction (grid 2)
  kernelSamples.forEach((k) => series.push(line(2, pairs(kTau, k), SAMPLE_BLUE, 2.75, { smooth: 0.35 })));
  series.push(line(2, kTruth, ORANGE, 4.5, { smooth: 0.35, z: 3 }));

  // ---- Quasi-periodic data (grid 3)
  series.push(band(3, qpGapX, qpBandUpper, qpBandLower));
  series.push(line(3, qpTrainLeft, 'rgba(31,119,180,0.15)', 14, { lineStyle: { cap: 'round' } }));
  series.push(line(3, qpTrainRight, 'rgba(31,119,180,0.15)', 14, { lineStyle: { cap: 'round' } }));
  [qpFkl1, qpFkl2, qpFkl3].forEach((f) => series.push(line(3, pairs(qpGapX, f), 'rgba(31,119,180,0.6)', 4)));
  series.push(line(3, qpRbf, GREEN, 5, { smooth: 0.3 }));
  series.push(line(3, qpMatern, PINK, 5, { smooth: 0.4 }));
  series.push({ type: 'scatter', xAxisIndex: 3, yAxisIndex: 3, data: [...qpTrainLeft, ...qpTrainRight], symbolSize: 15, itemStyle: { color: ORANGE }, silent: true, z: 2 });
  series.push(line(3, qpTest, ORANGE, 5.5));
  series.push(line(3, qpSm, RED, 5.5, { lineStyle: { type: [22, 10] } }));
  series.push(line(3, [...qpTrainLeft, ...qpBnseGap.slice(1, -1), ...qpTrainRight], BROWN, 5.5));

  const trRows = [145, 194, 243, 292, 341, 390, 439, 488];
  const brRows = [1354, 1403, 1452, 1501, 1550, 1599, 1648, 1697];

  const graphic: any[] = [
    txt('Spectral Density', 708, 66, 55, 'center'),
    txt('Spectral Mixture Data', 2214, 71, 55, 'center'),
    txt('Kernel Reconstruction', 708, 1275, 55, 'center'),
    txt('Quasi-Periodic Data', 2214, 1281, 55, 'center'),
    // top-left legend
    box(689, 117, 517, 132),
    hline(704, 789, 151, SAMPLE_BLUE, 2.75), txt('Posterior Samples', 821, 151, 41),
    hline(704, 789, 211, ORANGE, 5), txt('True Spectrum', 821, 211, 41),
    // bottom-left legend
    box(715, 1326, 491, 131),
    hline(729, 813, 1360, SAMPLE_BLUE, 2.75), txt('Sampled Kernels', 846, 1360, 41),
    hline(729, 813, 1419, ORANGE, 5), txt('Truth', 846, 1419, 41),
    ...modelLegend(trRows),
    ...modelLegend(brRows),
  ];

  const gridBase = { show: true, borderColor: '#000', borderWidth: 2.2, backgroundColor: 'transparent', containLabel: false, outerBoundsMode: 'none' };

  return {
    animation: false,
    backgroundColor: '#ffffff',
    textStyle: { fontFamily: FONT },
    grid: [
      { ...gridBase, left: 189, top: 96.5, width: 1038, height: 846.5 },
      { ...gridBase, left: 1470, top: 101.5, width: 1489, height: 842.5 },
      { ...gridBase, left: 189, top: 1305, width: 1038, height: 846 },
      { ...gridBase, left: 1470, top: 1310, width: 1489, height: 841 },
    ],
    xAxis: [
      mkAxis(0, 0, 1.3, [0, 0.2, 0.4, 0.6, 0.8, 1.0, 1.2], f1, 'Frequency', 50),
      mkAxis(1, -7, 7, [-6, -4, -2, 0, 2, 4, 6], f0, 'X', 50),
      mkAxis(2, -0.15, 3.15, [0, 0.5, 1.0, 1.5, 2.0, 2.5, 3.0], f1, 'Tau', 50),
      mkAxis(3, -7.706, 7.706, [-6, -4, -2, 0, 2, 4, 6], f0, 'X', 50),
    ],
    yAxis: [
      mkAxis(0, 0, 20.43, [0, 2.5, 5, 7.5, 10, 12.5, 15, 17.5, 20], f1, 'Spectral Density', 96),
      mkAxis(1, -2.736, 2.386, [-2, -1, 0, 1, 2], f0, 'Y', 69),
      mkAxis(2, -0.139, 1.055, [0, 0.2, 0.4, 0.6, 0.8, 1.0], f1, 'K(Tau)', 83),
      mkAxis(3, -3.326, 3.02, [-3, -2, -1, 0, 1, 2, 3], f0, 'Y', 69),
    ],
    series,
    graphic: { elements: graphic },
  };
}

export default function App() {
  const ref = useRef<HTMLDivElement>(null);
  useEffect(() => {
    document.body.style.margin = '0';
    const chart = echarts.init(ref.current!, null, { renderer: 'svg', width: 2915, height: 2229 });
    chart.setOption(buildOption() as any);
    return () => chart.dispose();
  }, []);
  return <div ref={ref} style={{ position: 'absolute', left: 0, top: 0, width: 2915, height: 2229, background: '#fff', overflow: 'hidden' }} />;
}
